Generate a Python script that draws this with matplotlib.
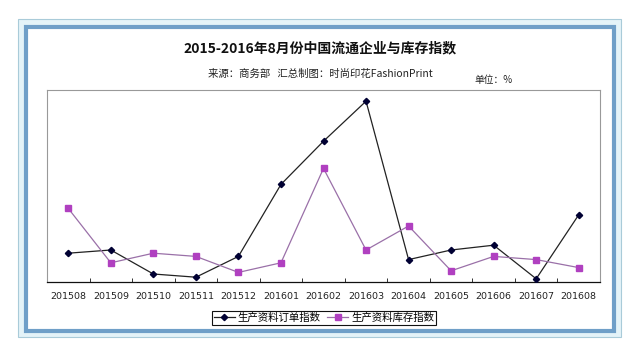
import matplotlib
matplotlib.use("Agg")
import matplotlib.pyplot as plt
from matplotlib.patches import Rectangle
from matplotlib.lines import Line2D

plt.rcParams['font.family'] = ['Noto Sans CJK SC', 'DejaVu Sans']

months = ["201508", "201509", "201510", "201511", "201512", "201601", "201602",
          "201603", "201604", "201605", "201606", "201607", "201608"]
order_index = [46.8, 47.0, 45.5, 45.3, 46.6, 51.1, 53.8, 56.3, 46.4, 47.0, 47.3, 45.2, 49.2]
inventory_index = [49.6, 46.2, 46.8, 46.6, 45.6, 46.2, 52.1, 47.0, 48.5, 45.7, 46.6, 46.4, 45.9]

title = "2015-2016年8月份中国流通企业与库存指数"
subtitle = "来源：商务部   汇总制图：时尚印花FashionPrint"
unit = "单位：%"
series_names = ["生产资料订单指数", "生产资料库存指数"]

W, H = 640, 357
fig = plt.figure(figsize=(W / 100, H / 100), dpi=100)
fig.patch.set_facecolor("white")

def fx(px):
    return px / W

def fy(py):
    return 1 - py / H

# outer frame
fig.patches.append(Rectangle((fx(18), fy(337)), fx(621) - fx(18), fy(19) - fy(337),
                             transform=fig.transFigure, facecolor="#e4f3f8",
                             edgecolor="#a9cbd9", lw=0.8, zorder=-10))
fig.patches.append(Rectangle((fx(26), fy(331)), fx(614) - fx(26), fy(27) - fy(331),
                             transform=fig.transFigure, facecolor="white",
                             edgecolor="#6f9fc8", lw=3.0, zorder=-9))

ax = fig.add_axes([fx(47), fy(282), fx(600) - fx(47), fy(90) - fy(282)])
ax.set_zorder(5)
ax.set_facecolor("white")
x = list(range(len(months)))
ax.plot(x, order_index, color="#222222", lw=0.9, marker="D", ms=3.2,
        mfc="#000033", mec="#000033", zorder=3)
ax.plot(x, inventory_index, color="#9a70a8", lw=0.9, marker="s", ms=4.2,
        mfc="#b040c0", mec="#b040c0", zorder=3)
ax.set_xlim(-0.5, len(months) - 0.5)
ax.set_ylim(45, 57)
ax.set_yticks([])
ax.set_xticks(x)
ax.set_xticklabels(months, fontsize=6.8, family=['DejaVu Sans'], color="#222222")
ax.set_xticks([i + 0.5 for i in range(len(months) - 1)], minor=True)
ax.tick_params(axis="x", which="major", length=0, pad=7)
ax.tick_params(axis="x", which="minor", length=3, direction="in", color="#333333", width=0.7)
for s in ["top", "right", "left"]:
    ax.spines[s].set_color("#999999")
    ax.spines[s].set_linewidth(0.8)
ax.spines["bottom"].set_color("#111111")
ax.spines["bottom"].set_linewidth(0.9)

fig.text(fx(320), fy(48), title, ha="center", va="center", fontsize=10,
         fontweight="bold", color="#111111")
fig.text(fx(320), fy(74), subtitle, ha="center", va="center", fontsize=7.5,
         color="#222222")
fig.text(fx(494), fy(80), unit, ha="center", va="center", fontsize=7,
         color="#222222")

handles = [Line2D([], [], color="#222222", lw=0.9, marker="D", ms=3.2,
                  mfc="#000033", mec="#000033"),
           Line2D([], [], color="#9a70a8", lw=0.9, marker="s", ms=4.2,
                  mfc="#b040c0", mec="#b040c0")]
leg = fig.legend(handles, series_names, loc="center", bbox_to_anchor=(fx(324), fy(318)),
                 ncol=2, fontsize=7.5, frameon=True, fancybox=False, handlelength=2.0,
                 handletextpad=0.3, columnspacing=0.6, borderpad=0.2,
                 edgecolor="#111111", framealpha=1)
leg.get_frame().set_linewidth(0.8)

fig.savefig("out.png", dpi=100, facecolor="white")
